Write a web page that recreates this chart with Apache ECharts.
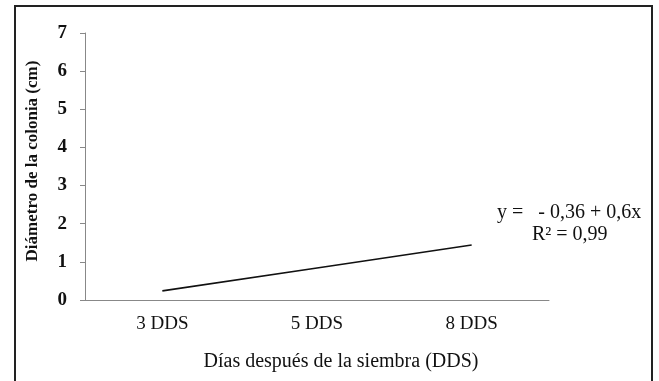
<!DOCTYPE html>
<html><head><meta charset="utf-8">
<script src="https://cdn.jsdelivr.net/npm/echarts@6/dist/echarts.min.js"></script>
<style>html,body{margin:0;padding:0;background:#fff}#c{width:659px;height:381px}</style>
</head><body><div id="c"></div>
<script>
const categories = ['3 DDS', '5 DDS', '8 DDS'];
const diameter = [0.24, 0.84, 1.44];
const yTicks = [0, 1, 2, 3, 4, 5, 6, 7];
const xTitle = 'Días después de la siembra (DDS)';
const yTitle = 'Diámetro de la colonia (cm)';
const equation = 'y =   - 0,36 + 0,6x';
const r2 = 'R² = 0,99';

const font = "'Liberation Serif', 'Times New Roman', serif";
const chart = echarts.init(document.getElementById('c'));
chart.setOption({
  animation: false,
  backgroundColor: '#fff',
  grid: { left: 85, right: 110, top: 33, bottom: 81 },
  xAxis: {
    type: 'category', data: categories, boundaryGap: true,
    axisLine: { lineStyle: { color: '#888', width: 1 } },
    axisTick: { length: 4, lineStyle: { color: '#888' } },
    axisLabel: { color: '#111', fontFamily: font, fontSize: 19, margin: 15 }
  },
  yAxis: {
    type: 'value', min: yTicks[0], max: yTicks[yTicks.length - 1], interval: 1,
    splitLine: { show: false },
    axisLine: { show: true, lineStyle: { color: '#888', width: 1 } },
    axisTick: { show: true, length: 5, lineStyle: { color: '#888' } },
    axisLabel: { color: '#111', fontFamily: font, fontSize: 19, fontWeight: 'bold', margin: 18 }
  },
  series: [{
    type: 'line', data: diameter, symbol: 'none',
    lineStyle: { color: '#111', width: 1.6 }
  }],
  graphic: [
    { type: 'rect', shape: { x: 15, y: 6, width: 637, height: 400 },
      style: { fill: null, stroke: '#222', lineWidth: 2 }, silent: true },
    { type: 'text', x: 341, y: 362, style: { text: xTitle, font: '20px ' + font, fill: '#111', textAlign: 'center', textVerticalAlign: 'middle' } },
    { type: 'text', x: 33, y: 161, rotation: Math.PI / 2, style: { text: yTitle, font: 'bold 17px ' + font, fill: '#111', textAlign: 'center', textVerticalAlign: 'middle' } },
    { type: 'text', x: 497, y: 213, style: { text: equation, font: '20px ' + font, fill: '#111', textAlign: 'left', textVerticalAlign: 'middle' } },
    { type: 'text', x: 532, y: 235, style: { text: r2, font: '20px ' + font, fill: '#111', textAlign: 'left', textVerticalAlign: 'middle' } }
  ]
});
</script></body></html>
